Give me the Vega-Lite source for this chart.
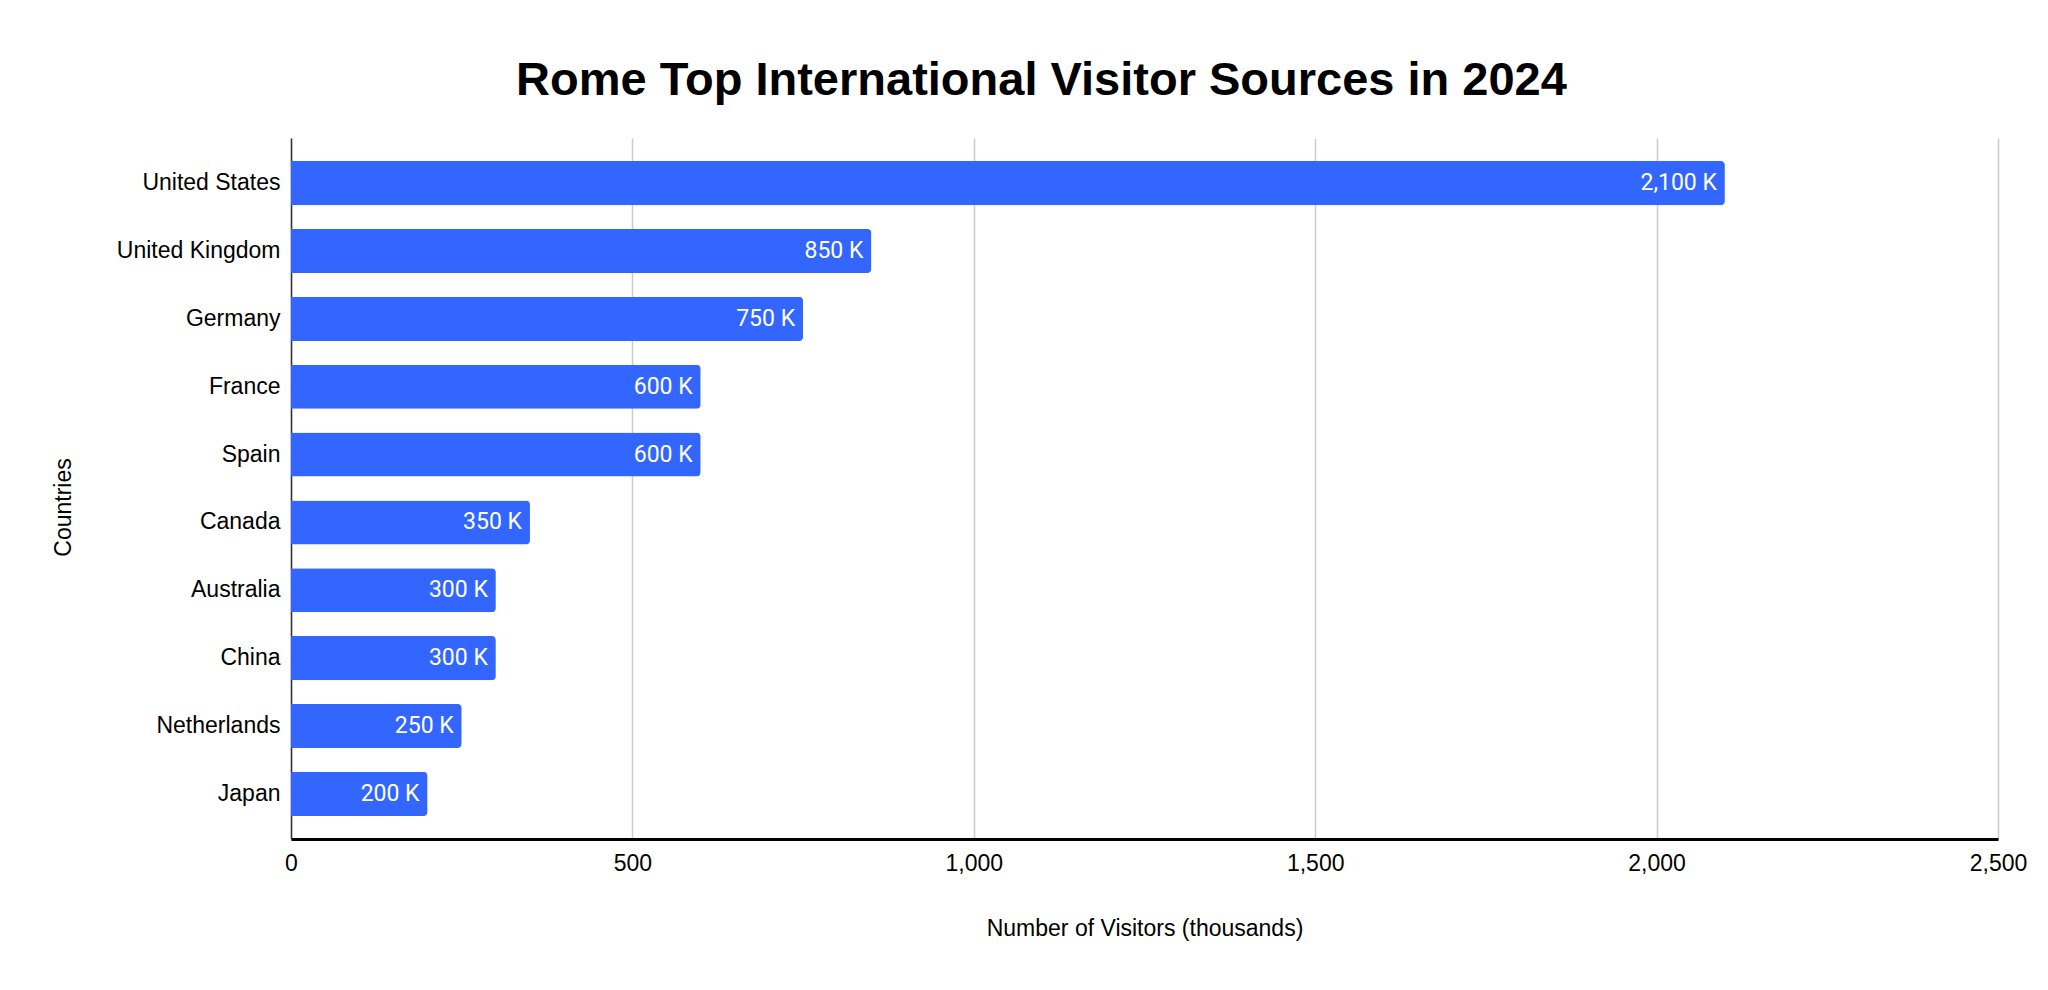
{
  "$schema": "https://vega.github.io/schema/vega-lite/v6.json",
  "description": "Rome Top International Visitor Sources in 2024",
  "autosize": "none",
  "padding": {"left": 291, "top": 138, "right": 50, "bottom": 151},
  "width": 1707,
  "height": 701,
  "background": "white",
  "title": {
    "text": "Rome Top International Visitor Sources in 2024",
    "font": "Liberation Sans",
    "fontSize": 47,
    "fontWeight": "bold",
    "color": "#000000",
    "anchor": "middle",
    "dx": -103,
    "offset": 33
  },
  "data": {
    "values": [
      {"Country": "United States", "Visitors": 2100},
      {"Country": "United Kingdom", "Visitors": 850},
      {"Country": "Germany", "Visitors": 750},
      {"Country": "France", "Visitors": 600},
      {"Country": "Spain", "Visitors": 600},
      {"Country": "Canada", "Visitors": 350},
      {"Country": "Australia", "Visitors": 300},
      {"Country": "China", "Visitors": 300},
      {"Country": "Netherlands", "Visitors": 250},
      {"Country": "Japan", "Visitors": 200}
    ]
  },
  "transform": [
    {"calculate": "format(datum.Visitors, ',') + ' K'", "as": "Label"}
  ],
  "encoding": {
    "y": {
      "field": "Country",
      "type": "nominal",
      "sort": null,
      "scale": {"paddingInner": 0.35, "paddingOuter": 0.34},
      "axis": {
        "title": "Countries",
        "titleFont": "Liberation Sans",
        "titleFontSize": 23,
        "titleFontWeight": "normal",
        "titleColor": "#000000",
        "titleX": -228,
        "titleY": 369,
        "titleAngle": -90,
        "titleBaseline": "middle",
        "titleAlign": "center",
        "labelFont": "Liberation Sans",
        "labelFontSize": 23,
        "labelColor": "#000000",
        "labelPadding": 11,
        "ticks": false,
        "domainColor": "#333333",
        "domainWidth": 1.5
      }
    },
    "x": {
      "field": "Visitors",
      "type": "quantitative",
      "scale": {"domain": [0, 2500]},
      "axis": {
        "title": "Number of Visitors (thousands)",
        "titleFont": "Liberation Sans",
        "titleFontSize": 23,
        "titleFontWeight": "normal",
        "titleColor": "#000000",
        "titleY": 89,
        "titleBaseline": "middle",
        "values": [0, 500, 1000, 1500, 2000, 2500],
        "format": ",.0f",
        "labelFont": "Liberation Sans",
        "labelFontSize": 23,
        "labelColor": "#000000",
        "labelPadding": 13,
        "labelFlush": false,
        "ticks": false,
        "grid": true,
        "gridColor": "#cccccc",
        "gridWidth": 1.5,
        "domainColor": "#000000",
        "domainWidth": 3
      }
    }
  },
  "layer": [
    {
      "mark": {"type": "bar", "color": "#3366ff", "cornerRadiusEnd": 4}
    },
    {
      "mark": {
        "type": "text",
        "align": "right",
        "baseline": "middle",
        "dx": -8,
        "font": "Roboto",
        "fontSize": 23,
        "color": "#ffffff"
      },
      "encoding": {
        "text": {"field": "Label", "type": "nominal"}
      }
    }
  ],
  "config": {"view": {"stroke": null}}
}
